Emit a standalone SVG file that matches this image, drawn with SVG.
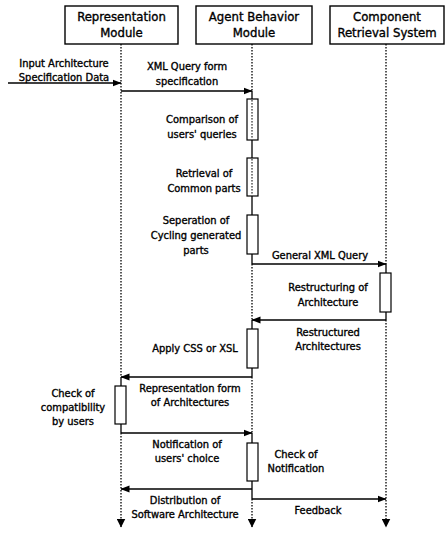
<svg xmlns="http://www.w3.org/2000/svg" width="445" height="536" viewBox="0 0 445 536">
<style>
.box{fill:#fff;stroke:#000;stroke-width:1.4}
.act{fill:#fff;stroke:#000;stroke-width:1.2}
.life{stroke:#000;stroke-width:1.3;stroke-dasharray:1.6 1.4;fill:none}
.solid{stroke:#000;stroke-width:1.3;fill:none}
.msg{stroke:#000;stroke-width:1.3;fill:none;marker-end:url(#ah)}
text{font-family:"DejaVu Sans Condensed","DejaVu Sans",sans-serif;font-size:11px;fill:#000;stroke:#000;stroke-width:0.35;text-anchor:middle}
.hd{font-size:13px}
</style>
<defs>
<marker id="ah" markerWidth="9" markerHeight="8" refX="8.5" refY="4" orient="auto" markerUnits="userSpaceOnUse">
<path d="M0,0.5 L9,4 L0,7.5 z" fill="#000"/>
</marker>
<marker id="ad" markerWidth="9" markerHeight="9" refX="4.5" refY="8.5" orient="0" markerUnits="userSpaceOnUse">
<path d="M0,0 L9,0 L4.5,9 z" fill="#000"/>
</marker>
</defs>

<g id="representation-module">
<rect class="box" x="65" y="6" width="113" height="38"/>
<text class="hd" x="121.5" y="21">Representation</text>
<text class="hd" x="121.5" y="37">Module</text>
</g>
<g id="agent-behavior-module">
<rect class="box" x="196" y="6" width="116" height="38"/>
<text class="hd" x="254" y="21">Agent Behavior</text>
<text class="hd" x="254" y="37">Module</text>
</g>
<g id="component-retrieval-system">
<rect class="box" x="330" y="6" width="114" height="38"/>
<text class="hd" x="387" y="21">Component</text>
<text class="hd" x="387" y="37">Retrieval System</text>
</g>

<g id="lifelines">
<path class="life" d="M121,44 V377"/>
<path class="life" d="M121,433 V527" marker-end="url(#ad)"/>
<path class="solid" d="M121,377 V433"/>
<path class="life" d="M252,44 V91 M252,264 V320 M252,377 V433"/>
<path class="life" d="M252,499 V527" marker-end="url(#ad)"/>
<path class="solid" d="M252,91 V264 M252,320 V377 M252,433 V499"/>
<path class="life" d="M386,44 V264"/>
<path class="life" d="M386,320 V527" marker-end="url(#ad)"/>
<path class="solid" d="M386,264 V320"/>
</g>

<g id="activations">
<g id="act-comparison">
<rect class="act" x="247" y="99" width="11" height="41"/>
<path class="life" d="M252,100 V139" style="stroke-width:1"/>
<text x="202" y="123">Comparison of</text>
<text x="202" y="138">users' queries</text>
</g>
<g id="act-retrieval">
<rect class="act" x="247" y="158" width="11" height="38"/>
<path class="life" d="M252,159 V195" style="stroke-width:1"/>
<text x="204" y="177">Retrieval of</text>
<text x="204" y="192">Common parts</text>
</g>
<g id="act-separation">
<rect class="act" x="247" y="215" width="11" height="39"/>
<text x="196" y="224">Seperation of</text>
<text x="196" y="239">Cycling generated</text>
<text x="196" y="254">parts</text>
</g>
<g id="act-restructuring">
<rect class="act" x="380" y="273" width="11" height="39"/>
<text x="328" y="291">Restructuring of</text>
<text x="328" y="306">Architecture</text>
</g>
<g id="act-apply">
<rect class="act" x="247" y="329" width="11" height="39"/>
<text x="195" y="352">Apply CSS or XSL</text>
</g>
<g id="act-check-compat">
<rect class="act" x="115" y="386" width="11" height="38"/>
<text x="73" y="397">Check of</text>
<text x="73" y="411">compatibility</text>
<text x="73" y="425">by users</text>
</g>
<g id="act-check-notif">
<rect class="act" x="247" y="443" width="11" height="38"/>
<text x="296" y="458">Check of</text>
<text x="296" y="472">Notification</text>
</g>
</g>

<g id="connectors">
<line class="msg" x1="8" y1="83" x2="121" y2="83"/>
<text x="64" y="67">Input Architecture</text>
<text x="64" y="81">Specification Data</text>
<line class="msg" x1="121" y1="91" x2="252" y2="91"/>
<text x="187" y="70">XML Query form</text>
<text x="187" y="85">specification</text>
<line class="msg" x1="252" y1="264" x2="386" y2="264"/>
<text x="320" y="259">General XML Query</text>
<line class="msg" x1="386" y1="320" x2="252" y2="320"/>
<text x="328" y="336">Restructured</text>
<text x="328" y="350">Architectures</text>
<line class="msg" x1="252" y1="377" x2="121" y2="377"/>
<text x="190" y="392">Representation form</text>
<text x="190" y="406">of Architectures</text>
<line class="msg" x1="121" y1="433" x2="252" y2="433"/>
<text x="187" y="448">Notification of</text>
<text x="187" y="462">users' choice</text>
<line class="msg" x1="252" y1="489" x2="121" y2="489"/>
<text x="185" y="504">Distribution of</text>
<text x="185" y="518">Software Architecture</text>
<line class="msg" x1="252" y1="499" x2="386" y2="499"/>
<text x="318" y="514">Feedback</text>
</g>
</svg>
